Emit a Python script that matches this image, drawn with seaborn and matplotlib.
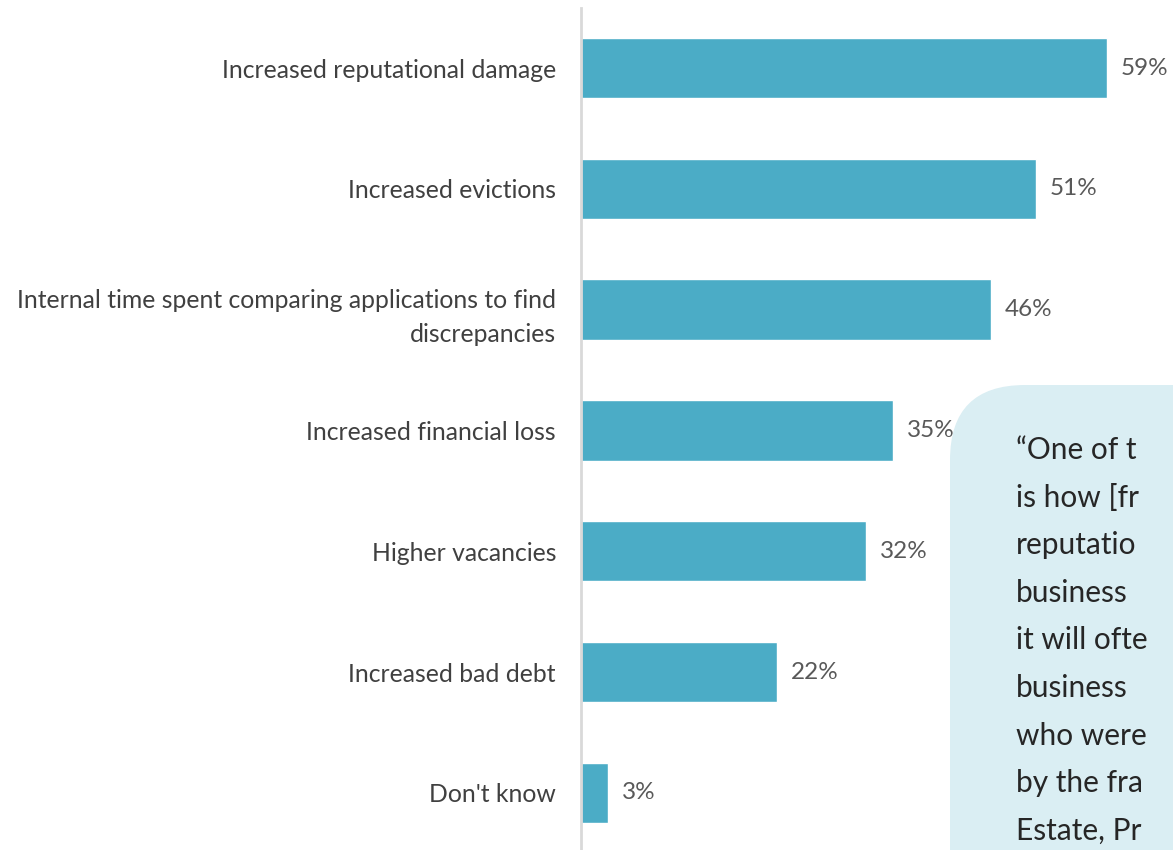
import matplotlib
matplotlib.use("Agg")
import matplotlib.pyplot as plt
import seaborn as sns
import pandas as pd
from matplotlib.patches import FancyBboxPatch

categories = [
    "Increased reputational damage",
    "Increased evictions",
    "Internal time spent comparing applications to find\ndiscrepancies",
    "Increased financial loss",
    "Higher vacancies",
    "Increased bad debt",
    "Don't know",
]
values = [59, 51, 46, 35, 32, 22, 3]
value_labels = ["59%", "51%", "46%", "35%", "32%", "22%", "3%"]

quote_lines = [
    "\u201cOne of t",
    "is how [fr",
    "reputatio",
    "business",
    "it will ofte",
    "business",
    "who were",
    "by the fra",
    "Estate, Pr",
]

sns.set_style("white")
plt.rcParams["font.family"] = ["Lato", "DejaVu Sans"]

df = pd.DataFrame({"category": categories, "value": values})

W, H = 1173, 850
fig = plt.figure(figsize=(W / 100, H / 100), dpi=100)
ax = fig.add_axes([581 / W, 0, 1 - 581 / W, 1 - 8 / H])

sns.barplot(data=df, x="value", y="category", color="#4BACC6", width=0.5,
            saturation=1, ax=ax, orient="h")

ax.set_xlim(0, (W - 581) / 8.915)
ax.set_ylim((H - 68) / 120.8, -0.497)
ax.set_xlabel("")
ax.set_ylabel("")
ax.set_xticks([])
for s in ["top", "right", "bottom"]:
    ax.spines[s].set_visible(False)
ax.spines["left"].set_color("#d9d9d9")
ax.spines["left"].set_linewidth(2)
ax.tick_params(axis="y", length=0, pad=18, labelsize=17.8, labelcolor="#404040")
for lab in ax.get_yticklabels():
    lab.set_horizontalalignment("right")
    lab.set_linespacing(1.6)

for i, (v, t) in enumerate(zip(values, value_labels)):
    ax.annotate(t, xy=(v, i), xytext=(10, 0), textcoords="offset points",
                va="center", ha="left", fontsize=17.5, color="#595959")

# overlay for the quote box in pixel coordinates
ov = fig.add_axes([0, 0, 1, 1])
ov.set_xlim(0, W)
ov.set_ylim(H, 0)
ov.axis("off")
box = FancyBboxPatch((950, 385), 400, 600,
                     boxstyle="round,pad=0,rounding_size=75",
                     facecolor="#DAEEF3", edgecolor="none")
ov.add_patch(box)
for k, line in enumerate(quote_lines):
    ov.text(1016, 450 + 47.6 * k, line, fontsize=21.5, color="#262626",
            va="center", ha="left")

fig.savefig("out.png", dpi=100)
